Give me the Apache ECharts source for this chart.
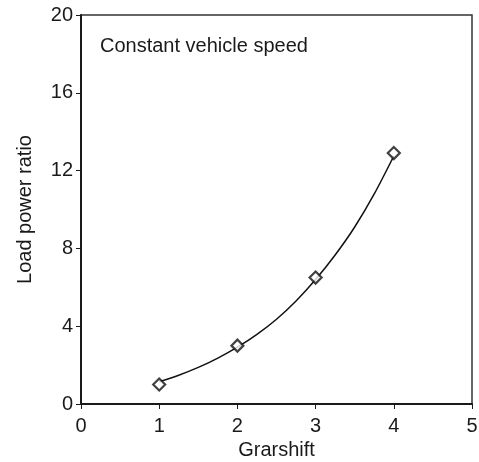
<!DOCTYPE html>
<html><head><meta charset="utf-8">
<script src="https://cdn.jsdelivr.net/npm/echarts@6/dist/echarts.min.js"></script>
<style>html,body{margin:0;padding:0;background:#fff}#c{width:479px;height:462px}</style>
</head><body><div id="c"></div>
<script>
const gearshift = [1, 2, 3, 4];
const loadPowerRatio = [1.0, 3.0, 6.5, 12.9];
const trendX = [1, 1.25, 1.5, 1.75, 2, 2.25, 2.5, 2.75, 3, 3.25, 3.5, 3.75, 4];
const trendY = [1.15, 1.48, 1.88, 2.36, 2.92, 3.58, 4.36, 5.3, 6.4, 7.66, 9.1, 10.8, 12.75];
const xTicks = [0, 1, 2, 3, 4, 5];
const yTicks = [0, 4, 8, 12, 16, 20];
const annotation = 'Constant vehicle speed';

const chart = echarts.init(document.getElementById('c'), null, {renderer: 'canvas'});
const font = 'Liberation Sans, Arial, sans-serif';
const ink = '#1a1a1a';
chart.setOption({
  backgroundColor: '#fff',
  animation: false,
  grid: {left: 81, right: 7, top: 15, bottom: 58, outerBoundsMode: 'none', containLabel: false,
         show: true, borderColor: '#333', borderWidth: 1.5, backgroundColor: 'transparent'},
  graphic: [{type: 'text', left: 100, top: 36, style: {text: annotation, font: '20px ' + font, fill: ink}}],
  xAxis: {
    type: 'value', min: xTicks[0], max: xTicks[xTicks.length - 1], interval: 1,
    name: 'Grarshift', nameLocation: 'middle', nameGap: 34,
    nameTextStyle: {fontFamily: font, fontSize: 20, color: ink},
    axisLine: {show: true, lineStyle: {color: ink, width: 2}},
    axisTick: {show: true, length: 5, lineStyle: {color: ink}},
    axisLabel: {fontFamily: font, fontSize: 20, color: ink, margin: 12},
    splitLine: {show: false}
  },
  yAxis: {
    type: 'value', min: yTicks[0], max: yTicks[yTicks.length - 1], interval: 4,
    name: 'Load power ratio', nameLocation: 'middle', nameGap: 46, nameRotate: 90,
    nameTextStyle: {fontFamily: font, fontSize: 20, color: ink},
    axisLine: {show: true, lineStyle: {color: ink, width: 2}},
    axisTick: {show: true, length: 5, lineStyle: {color: ink}},
    axisLabel: {fontFamily: font, fontSize: 20, color: ink, margin: 8},
    splitLine: {show: false}
  },
  series: [{
    type: 'line',
    data: trendX.map((g, i) => [g, trendY[i]]),
    smooth: 0.3,
    showSymbol: false,
    lineStyle: {color: '#111', width: 1.5},
    z: 2
  }, {
    type: 'scatter',
    data: gearshift.map((g, i) => [g, loadPowerRatio[i]]),
    symbol: 'diamond', symbolSize: 12,
    itemStyle: {color: '#fff', borderColor: '#111', borderWidth: 2.2},
    z: 3
  }]
});
</script></body></html>
